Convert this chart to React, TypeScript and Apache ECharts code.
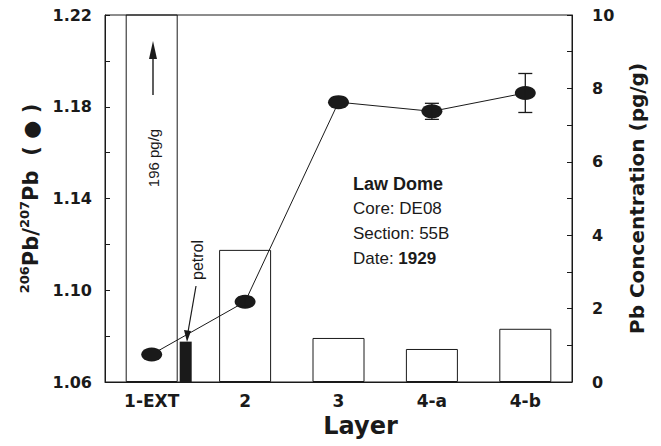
import React, { useEffect, useRef } from 'react';
import * as echarts from 'echarts';

const layers = ['1-EXT', '2', '3', '4-a', '4-b'];
const pbConc = [196, 3.6, 1.2, 0.9, 1.45];
const petrolConc = [[0, 1.1]];
const ratio = [1.072, 1.095, 1.182, 1.178, 1.186];
const ratioErr = [0, 0.002, 0, 0.0035, 0.0085];

const INK = '#1a1a1a';
const BOLD = 'DejaVu Sans';
const REG = 'Liberation Sans';

export default function App() {
  const ref = useRef<HTMLDivElement>(null);
  useEffect(() => {
    if (!ref.current) return;
    const chart = echarts.init(ref.current, undefined, { renderer: 'svg' });
    const errData = ratio
      .map((v, i) => [i, v - ratioErr[i], v + ratioErr[i], ratioErr[i]])
      .filter((d) => d[3] > 0);
    chart.setOption({
      animation: false,
      backgroundColor: '#fff',
      grid: { left: 105, right: 89, top: 15, bottom: 64, show: true, borderColor: INK, borderWidth: 1, backgroundColor: 'transparent' },
      xAxis: {
        type: 'category',
        data: layers,
        boundaryGap: true,
        axisLine: { lineStyle: { color: INK, width: 1 } },
        axisTick: { show: false },
        axisLabel: { color: INK, fontFamily: BOLD, fontWeight: 'bold', fontSize: 17, margin: 10 },
        name: 'Layer',
        nameLocation: 'middle',
        nameGap: 30,
        nameTextStyle: { color: INK, fontFamily: BOLD, fontWeight: 'bold', fontSize: 24, padding: [0, 0, 0, 44] },
      },
      yAxis: [
        {
          type: 'value',
          min: 1.06,
          max: 1.22,
          interval: 0.02,
          position: 'left',
          splitLine: { show: false },
          axisLine: { show: true, lineStyle: { color: INK } },
          axisTick: { show: true, inside: true, length: 5, lineStyle: { color: INK } },
          axisLabel: {
            color: INK, fontFamily: BOLD, fontWeight: 'bold', fontSize: 16, margin: 13,
            formatter: (v: number) => (Math.round(v * 100) % 4 === 2 ? v.toFixed(2) : ''),
          },
          name: '{s|206}{m|Pb/}{s|207}{m|Pb  ( ● )}',
          nameLocation: 'middle',
          nameRotate: 90,
          nameGap: 62,
          nameTextStyle: {
            color: INK, fontFamily: BOLD, fontWeight: 'bold', fontSize: 21,
            rich: {
              s: { fontFamily: BOLD, fontWeight: 'bold', fontSize: 13, lineHeight: 24, verticalAlign: 'top', color: INK },
              m: { fontFamily: BOLD, fontWeight: 'bold', fontSize: 21, lineHeight: 24, verticalAlign: 'bottom', color: INK },
            },
          },
        },
        {
          type: 'value',
          min: 0,
          max: 10,
          interval: 1,
          position: 'right',
          splitLine: { show: false },
          axisLine: { show: true, lineStyle: { color: INK } },
          axisTick: { show: true, inside: true, length: 5, lineStyle: { color: INK } },
          axisLabel: {
            color: INK, fontFamily: BOLD, fontWeight: 'bold', fontSize: 16, margin: 20,
            formatter: (v: number) => (Math.round(v) % 2 === 0 ? String(v) : ''),
          },
          name: 'Pb Concentration (pg/g)',
          nameLocation: 'middle',
          nameRotate: 90,
          nameGap: 55,
          nameTextStyle: { color: INK, fontFamily: BOLD, fontWeight: 'bold', fontSize: 20 },
        },
      ],
      series: [
        {
          type: 'bar',
          yAxisIndex: 1,
          data: pbConc,
          barWidth: 52,
          clip: true,
          itemStyle: { color: 'rgba(255,255,255,0)', borderColor: INK, borderWidth: 1 },
          z: 2,
        },
        {
          type: 'custom',
          yAxisIndex: 1,
          data: petrolConc,
          encode: { x: 0, y: 1 },
          z: 3,
          renderItem: (params: any, api: any) => {
            const base = api.coord([api.value(0), 0]);
            const top = api.coord([api.value(0), api.value(1)]);
            return {
              type: 'rect',
              shape: { x: base[0] + 28, y: top[1], width: 12, height: base[1] - top[1] },
              style: { fill: INK },
            };
          },
        },
        {
          type: 'line',
          yAxisIndex: 0,
          data: ratio,
          symbol: 'circle',
          symbolSize: [21, 14],
          itemStyle: { color: INK },
          lineStyle: { color: INK, width: 1 },
          z: 4,
        },
        {
          type: 'custom',
          yAxisIndex: 0,
          data: errData,
          encode: { x: 0, y: [1, 2] },
          z: 5,
          renderItem: (params: any, api: any) => {
            const lo = api.coord([api.value(0), api.value(1)]);
            const hi = api.coord([api.value(0), api.value(2)]);
            const w = 7;
            const st = { stroke: INK, lineWidth: 1.3 };
            return {
              type: 'group',
              children: [
                { type: 'line', shape: { x1: lo[0], y1: lo[1], x2: hi[0], y2: hi[1] }, style: st },
                { type: 'line', shape: { x1: lo[0] - w, y1: lo[1], x2: lo[0] + w, y2: lo[1] }, style: st },
                { type: 'line', shape: { x1: hi[0] - w, y1: hi[1], x2: hi[0] + w, y2: hi[1] }, style: st },
              ],
            };
          },
        },
      ],
      graphic: [
        { type: 'line', shape: { x1: 153, y1: 95, x2: 153, y2: 56 }, style: { stroke: INK, lineWidth: 1.4 } },
        { type: 'polygon', shape: { points: [[153, 41], [149, 59], [157, 59]] }, style: { fill: INK } },
        {
          type: 'text', x: 153, y: 158, rotation: Math.PI / 2,
          style: { text: '196 pg/g', fill: INK, font: `15px "${REG}"`, align: 'center', verticalAlign: 'middle' },
        },
        {
          type: 'text', x: 197, y: 260, rotation: Math.PI / 2,
          style: { text: 'petrol', fill: INK, font: `16px "${REG}"`, align: 'center', verticalAlign: 'middle' },
        },
        { type: 'line', shape: { x1: 196, y1: 286, x2: 188, y2: 332 }, style: { stroke: INK, lineWidth: 1.2 } },
        { type: 'polygon', shape: { points: [[187, 342], [184, 330], [191, 331]] }, style: { fill: INK } },
        {
          type: 'text', x: 353, y: 171,
          style: {
            text: '{h|Law Dome}\n{r|Core: DE08}\n{r|Section: 55B}\n{r|Date: }{b|1929}',
            fill: INK,
            rich: {
              h: { fontFamily: REG, fontWeight: 'bold', fontSize: 18, lineHeight: 25, fill: INK },
              r: { fontFamily: REG, fontSize: 17, lineHeight: 25, fill: INK },
              b: { fontFamily: REG, fontWeight: 'bold', fontSize: 17, lineHeight: 25, fill: INK },
            },
          },
        },
      ],
    });
    return () => chart.dispose();
  }, []);
  return <div ref={ref} style={{ position: 'absolute', left: 0, top: 0, width: 661, height: 446 }} />;
}
